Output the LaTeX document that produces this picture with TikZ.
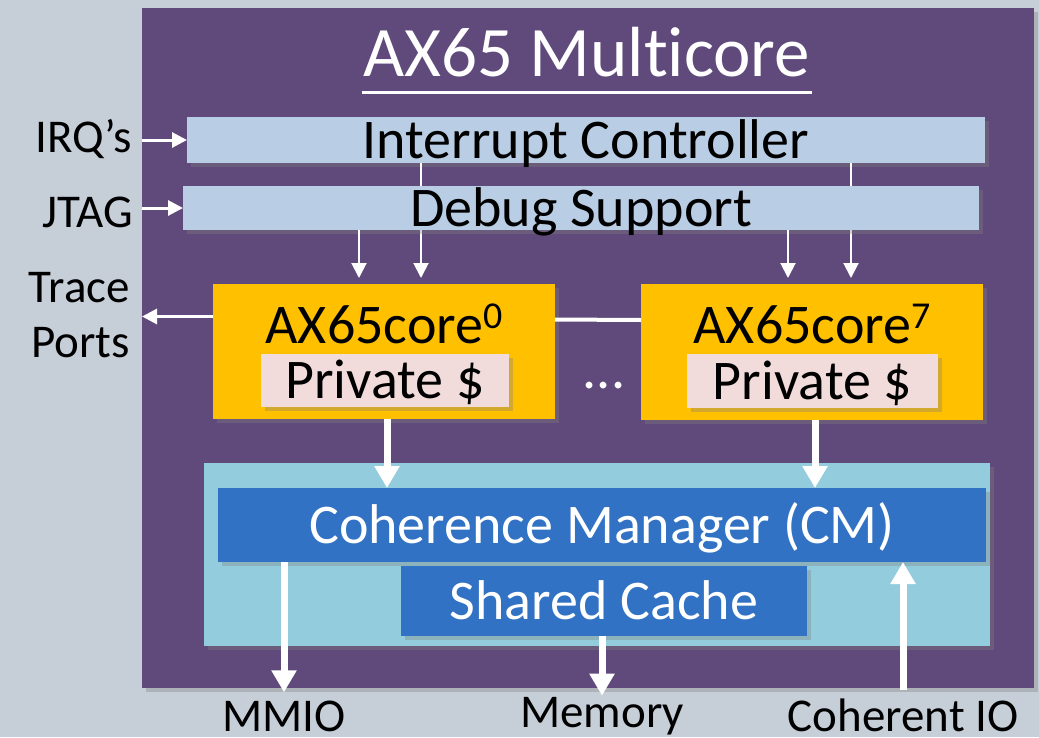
\documentclass[tikz,border=0pt]{standalone}
\usepackage{fontspec}
\setmainfont{Carlito}[Ligatures={TeX,NoCommon}]
\usetikzlibrary{positioning,arrows.meta,calc,shadows}
\definecolor{slide}{HTML}{C6CED8}
\definecolor{chip}{HTML}{604A7B}
\definecolor{barblue}{HTML}{B9CDE5}
\definecolor{coreyellow}{HTML}{FFC000}
\definecolor{cachepink}{HTML}{F2DCDB}
\definecolor{cmouter}{HTML}{93CDDD}
\definecolor{cmblue}{HTML}{3272C4}
\newcommand{\coreidx}[1]{\raisebox{15pt}{\fontsize{38}{38}\selectfont #1}}

\begin{document}
\begin{tikzpicture}[x=1pt, y=-1pt,
    box/.style={anchor=north west, inner sep=0pt, outer sep=0pt},
    shade/.style={drop shadow={shadow xshift=4pt, shadow yshift=-4pt, opacity=0.35}},
    big/.style={font=\fontsize{56}{60}\selectfont, text height=36pt, text depth=0pt},
    side/.style={font=\fontsize{47}{55}\selectfont, inner sep=0pt},
    finearrow/.style={draw=white, line width=2pt, -{Triangle[length=15pt, width=15pt]}},
    inarrow/.style={draw=white, line width=3pt, -{Triangle[length=15pt, width=15pt]}},
    fatarrow/.style={draw=white, line width=7pt, -{Triangle[length=22pt, width=24pt]}}]
    \useasboundingbox[fill=slide] (0,0) rectangle (1039,737);

    \node [box, fill=chip, minimum width=892pt, minimum height=680pt, shade] (chip) at (142,8) {};
    \node [font=\fontsize{71}{80}\selectfont, text=white, anchor=base, inner sep=2pt] (title) at (587,76) {AX65 Multicore};
    \draw [white, line width=3pt] ([yshift=-16pt]title.base west) -- ([yshift=-16pt]title.base east);

    \node [box, fill=barblue, minimum width=798pt, minimum height=46pt, shade, big] (intc) at (187,117) {Interrupt Controller};

    \node [box, fill=coreyellow, minimum width=342pt, minimum height=135pt, shade] (core0) at (213,284) {};
    \node [box, fill=coreyellow, minimum width=342pt, minimum height=136pt, shade] (core7) at (641,284) {};
    \node [big, anchor=base] (name0) at ([yshift=-59pt]core0.north) {AX65core\coreidx{0}};
    \node [big, anchor=base] (name7) at ([yshift=-59pt]core7.north) {AX65core\coreidx{7}};
    \node [box, fill=cachepink, minimum width=248pt, minimum height=53pt, shade, big] (priv0) at (261,354) {Private \$};
    \node [box, fill=cachepink, minimum width=251pt, minimum height=54pt, shade, big] (priv7) at (687,354) {Private \$};
    \node [big, text=white, anchor=base] (dots) at (604,388) {...};

    \coordinate (d0) at ([xshift=-25pt]core0.north);
    \coordinate (i0) at ([xshift=37pt]core0.north);
    \coordinate (d7) at ([xshift=-24pt]core7.north);
    \coordinate (i7) at ([xshift=39pt]core7.north);
    \draw [finearrow, shorten >=6pt] (intc.south -| i0) -- (i0);
    \draw [finearrow, shorten >=6pt] (intc.south -| i7) -- (i7);

    \node [box, fill=barblue, minimum width=796pt, minimum height=44pt, shade, big] (dbg) at (183,186) {Debug Support};
    \draw [finearrow, shorten >=6pt] (dbg.south -| d0) -- (d0);
    \draw [finearrow, shorten >=6pt] (dbg.south -| d7) -- (d7);

    \draw [white, line width=4pt] ([yshift=32pt]core0.east) -- ([yshift=32pt]core7.west);

    \node [box, fill=cmouter, minimum width=786pt, minimum height=183pt, shade] (cmzone) at (204,463) {};
    \node [box, fill=cmblue, minimum width=768pt, minimum height=74pt, shade, big, text=white] (cm) at (218,488) {Coherence Manager (CM)};
    \node [box, fill=cmblue, minimum width=406pt, minimum height=70pt, shade, big, text=white] (shared) at (401,566) {Shared Cache};

    \draw [fatarrow] ([xshift=3pt]core0.south) -- ([xshift=3pt]core0.south |- cm.north);
    \draw [fatarrow] ([xshift=3pt]core7.south) -- ([xshift=3pt]core7.south |- cm.north);

    \node [side, anchor=base east] (irq) at (132,152) {IRQ's};
    \node [side, anchor=base east] (jtag) at (133,227) {JTAG};
    \node [side, anchor=east, align=right] (trace) at (130,315) {Trace\\Ports};
    \node [side, anchor=base] (mmio) at (284,731) {MMIO};
    \node [side, anchor=base] (mem) at (602,727) {Memory};
    \node [side, anchor=base] (cohio) at (903,731) {Coherent IO};

    \draw [inarrow] (chip.west |- intc.west) -- (intc.west);
    \draw [inarrow] (chip.west |- dbg.west) -- (dbg.west);
    \coordinate (tr) at ([yshift=35pt]core0.west);
    \draw [inarrow] (tr) -- (chip.west |- tr);

    \draw [fatarrow, shorten >=8pt] (cm.south -| mmio) -- (mmio.north);
    \draw [fatarrow, shorten >=1pt] (shared.south -| mem) -- (mem.north);
    \draw [fatarrow, shorten <=8pt] (cohio.north) -- (cm.south -| cohio);
\end{tikzpicture}
\end{document}
